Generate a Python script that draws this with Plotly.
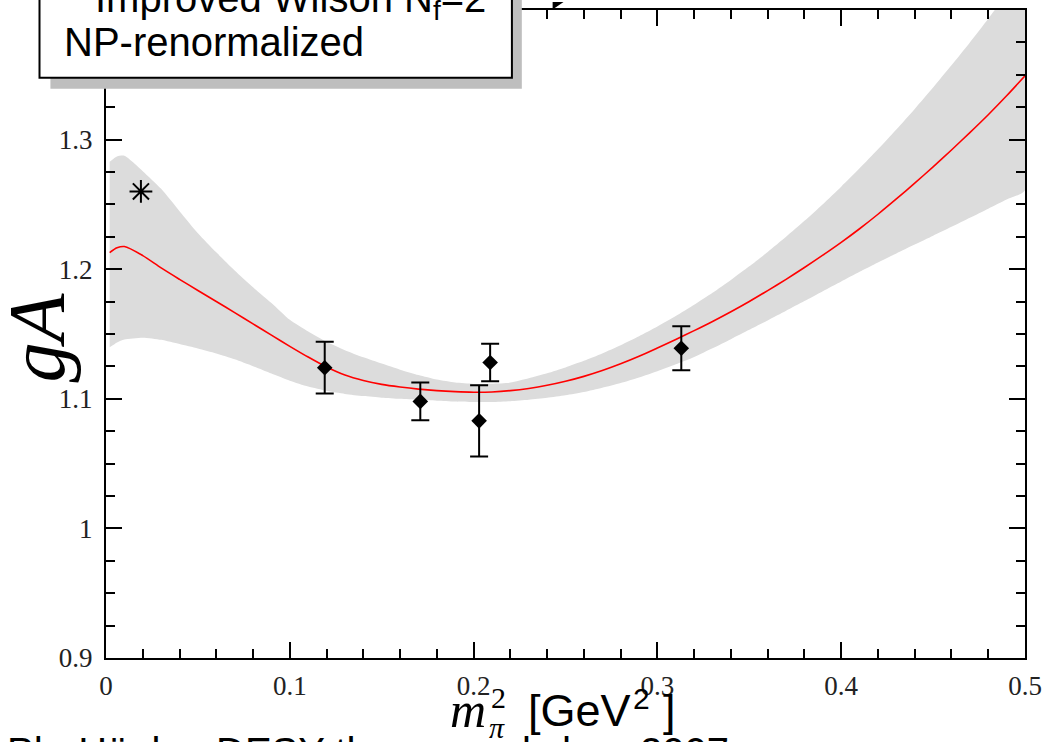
import plotly.graph_objects as go

# ---------------- data ----------------
# lattice data points: m_pi^2 [GeV^2], g_A, symmetric error
pts_x = [0.119, 0.171, 0.203, 0.209, 0.313]
pts_y = [1.124, 1.098, 1.083, 1.128, 1.139]
pts_err = [0.020, 0.0145, 0.0275, 0.0145, 0.017]

# experimental value (asterisk)
exp_x = [0.019]
exp_y = [1.260]

# chiral fit curve (red)
fit_x = [0.002, 0.006, 0.01, 0.02, 0.03, 0.04, 0.05, 0.06, 0.07, 0.08, 0.09,
         0.10, 0.11, 0.12, 0.13, 0.14, 0.15, 0.16, 0.17, 0.18, 0.19, 0.20,
         0.21, 0.22, 0.23, 0.24, 0.25, 0.26, 0.27, 0.28, 0.29, 0.30, 0.31,
         0.32, 0.33, 0.34, 0.35, 0.36, 0.37, 0.38, 0.39, 0.40, 0.41, 0.42,
         0.43, 0.44, 0.45, 0.46, 0.47, 0.48, 0.49, 0.50]
fit_y = [1.2128, 1.2165, 1.2175, 1.2105, 1.2010, 1.1922, 1.1836, 1.1751, 1.1665,
         1.1578, 1.1491, 1.1405, 1.1322, 1.1245, 1.1183, 1.1141, 1.1111, 1.1091,
         1.1075, 1.1063, 1.1055, 1.1051, 1.1053, 1.1063, 1.1080, 1.1104, 1.1135,
         1.1173, 1.1218, 1.1270, 1.1328, 1.1392, 1.1458, 1.1526, 1.1597, 1.1672,
         1.1751, 1.1835, 1.1922, 1.2013, 1.2108, 1.2207, 1.2312, 1.2424, 1.2542,
         1.2664, 1.2790, 1.2920, 1.3054, 1.3192, 1.3338, 1.3492]

# error band (grey)
band_x = fit_x
band_upper = [1.2830, 1.2870, 1.2875, 1.2756, 1.2620, 1.2448, 1.2278, 1.2130, 1.1990,
              1.1860, 1.1740, 1.1610, 1.1520, 1.1440, 1.1375, 1.1320, 1.1272, 1.1225,
              1.1183, 1.1148, 1.1125, 1.1115, 1.1117, 1.1125, 1.1158, 1.1197, 1.1242,
              1.1293, 1.1350, 1.1413, 1.1482, 1.1557, 1.1638, 1.1725, 1.1818, 1.1917,
              1.2022, 1.2133, 1.2250, 1.2373, 1.2502, 1.2637, 1.2778, 1.2925, 1.3078,
              1.3237, 1.3402, 1.3573, 1.3750, 1.3933, 1.4122, 1.4317]
band_lower = [1.1397, 1.1435, 1.1458, 1.1472, 1.1455, 1.1422, 1.1388, 1.1350, 1.1305,
              1.1252, 1.1195, 1.1140, 1.1095, 1.1062, 1.1038, 1.1021, 1.1009, 1.1000,
              1.0992, 1.0985, 1.0979, 1.0975, 1.0976, 1.0982, 1.0993, 1.1008, 1.1027,
              1.1052, 1.1085, 1.1122, 1.1165, 1.1213, 1.1266, 1.1323, 1.1390, 1.1460,
              1.1532, 1.1605, 1.1679, 1.1754, 1.1830, 1.1905, 1.1980, 1.2052, 1.2122,
              1.2190, 1.2258, 1.2327, 1.2397, 1.2467, 1.2538, 1.2610]

x_range = [0, 0.5]
y_range = [0.9, 1.4]

# ---------------- layout helpers ----------------
W, H = 1050, 742
L, R, T, B = 106, 18, 8, 84
PW, PH = W - L - R, H - T - B


def px(x):
    return (x - L) / PW


def py(y):
    return (H - B - y) / PH


fig = go.Figure()

fig.add_trace(go.Scatter(
    x=band_x + band_x[::-1], y=band_upper + band_lower[::-1],
    fill="toself", fillcolor="#dcdcdc",
    line=dict(width=0, color="#dcdcdc", shape="spline", smoothing=0.6),
    mode="lines", hoverinfo="skip"))

fig.add_trace(go.Scatter(
    x=fit_x, y=fit_y, mode="lines",
    line=dict(color="#ff0000", width=1.6, shape="spline", smoothing=0.8)))

fig.add_trace(go.Scatter(
    x=pts_x, y=pts_y, mode="markers",
    marker=dict(symbol="diamond", size=12, color="black"),
    error_y=dict(type="data", array=pts_err, visible=True,
                 color="black", thickness=2, width=9)))

fig.add_trace(go.Scatter(
    x=exp_x, y=exp_y, mode="markers",
    marker=dict(symbol="asterisk-open", size=19, color="black",
                line=dict(color="black", width=2))))

tickfont = dict(family="Liberation Serif", size=27, color="#222222")
axis_common = dict(
    showline=True, linewidth=2, linecolor="black", mirror="ticks",
    ticks="inside", ticklen=16, tickwidth=2, tickcolor="black",
    showgrid=False, zeroline=False, tickfont=tickfont,
)

fig.update_xaxes(range=x_range, tick0=0, dtick=0.1,
                 minor=dict(dtick=0.02, ticks="inside", ticklen=9,
                            tickwidth=2, tickcolor="black", showgrid=False),
                 ticklabelstandoff=3, **axis_common)
fig.update_yaxes(range=y_range, tick0=0.9, dtick=0.1,
                 minor=dict(dtick=0.025, ticks="inside", ticklen=9,
                            tickwidth=2, tickcolor="black", showgrid=False),
                 ticklabelstandoff=6, **axis_common)

shapes = [
    # shadow of the label box
    dict(type="rect", xref="paper", yref="paper", layer="above",
         x0=px(50), x1=px(525), y0=py(87), y1=py(-5),
         fillcolor="#bebebe", line=dict(width=0)),
    # label box
    dict(type="rect", xref="paper", yref="paper", layer="above",
         x0=px(39), x1=px(515), y0=py(76), y1=py(-5),
         fillcolor="white", line=dict(color="black", width=2)),
    # small arrow head at the top
    dict(type="path", xref="paper", yref="paper", layer="above",
         path=f"M {px(556)} {py(0)} L {px(556)} {py(7.5)} L {px(567)} {py(0)} Z",
         fillcolor="black", line=dict(width=0)),
]

sans = "Liberation Sans, Arial, sans-serif"
serif = "Liberation Serif, Times New Roman, serif"

annotations = [
    dict(text="Improved Wilson N<sub>f</sub>=2", x=px(94), y=py(-27),
         xanchor="left", yanchor="top", font=dict(family=sans, size=40, color="black")),
    dict(text="NP-renormalized", x=px(63), y=py(62.8),
         xanchor="left", yanchor="bottom", font=dict(family=sans, size=40, color="black")),
    dict(text="Ph. Hägler, DESY theory workshop 2007", x=px(5), y=py(729.5),
         xanchor="left", yanchor="top", font=dict(family=sans, size=40, color="black")),
    dict(text="<i>gA</i>", x=px(36), y=py(337), textangle=-90,
         xanchor="center", yanchor="middle", font=dict(family=serif, size=80, color="black")),
    dict(text="<i>m</i>", x=px(471), y=py(739),
         xanchor="center", yanchor="bottom", font=dict(family=serif, size=50, color="black")),
    dict(text="2", x=px(501), y=py(715),
         xanchor="center", yanchor="bottom", font=dict(family=serif, size=30, color="black")),
    dict(text="<i>π</i>", x=px(500), y=py(745),
         xanchor="center", yanchor="bottom", font=dict(family=serif, size=30, color="black")),
    dict(text="[GeV", x=px(530), y=py(737.5),
         xanchor="left", yanchor="bottom", font=dict(family=sans, size=45, color="black")),
    dict(text="2", x=px(646), y=py(716),
         xanchor="center", yanchor="bottom", font=dict(family=sans, size=30, color="black")),
    dict(text="]", x=px(681), y=py(737.5),
         xanchor="right", yanchor="bottom", font=dict(family=sans, size=45, color="black")),
]
for a in annotations:
    a.update(xref="paper", yref="paper", showarrow=False, borderpad=0)

fig.update_layout(
    width=W, height=H,
    margin=dict(l=L, r=R, t=T, b=B, pad=0),
    plot_bgcolor="white", paper_bgcolor="white",
    showlegend=False,
    shapes=shapes, annotations=annotations,
)

fig.write_html("out.html")
